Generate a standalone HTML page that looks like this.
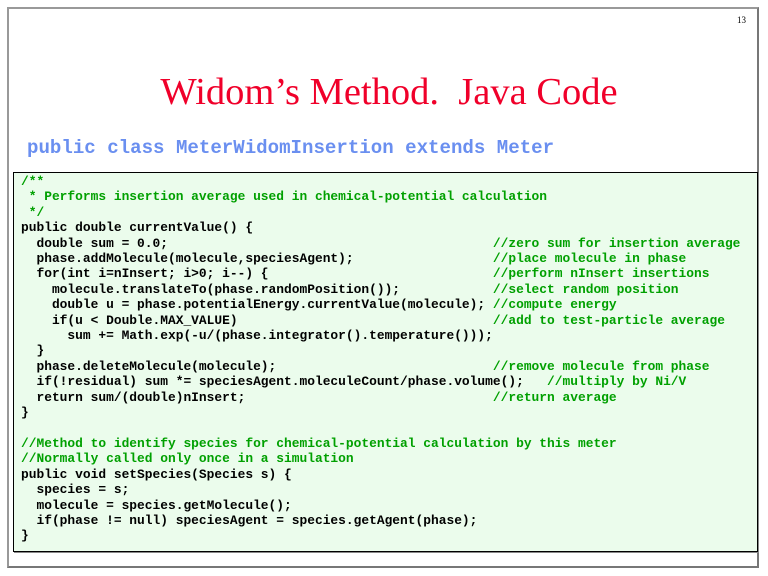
<!DOCTYPE html>
<html><head><meta charset="utf-8"><style>
body{margin:0;width:768px;height:576px;background:#fff;position:relative;overflow:hidden}
#slide{position:absolute;left:7px;top:7px;width:752px;height:561px;border:2px solid #777;border-top-color:#999;border-left-color:#999;box-sizing:border-box}
.num{position:absolute;left:737px;top:15px;font:9px "Liberation Serif",serif}
.title{position:absolute;left:0;width:778px;text-align:center;top:70px;font:38.5px "Liberation Serif",serif;color:#f0002a;white-space:pre}
.cls{position:absolute;left:27px;top:137px;font:bold 19.1px "Liberation Mono",monospace;color:#6a8ff0;white-space:pre}
#box{position:absolute;left:13px;top:172px;width:745px;height:380px;box-sizing:border-box;border:1px solid #000;background:#ebfcec;box-shadow:1px 1px 0 #888}
pre{position:absolute;left:21px;top:174px;margin:0;font:bold 12.9px/15.4px "Liberation Mono",monospace;color:#000}
.c{color:#00a000}
</style></head><body>
<div id="slide"></div>
<div class="num">13</div>
<div class="title">Widom’s Method.  Java Code</div>
<div class="cls">public class MeterWidomInsertion extends Meter</div>
<div id="box"></div>
<pre><span class="c">/**
 * Performs insertion average used in chemical-potential calculation
 */</span>
public double currentValue() {
  double sum = 0.0;                                          <span class="c">//zero sum for insertion average</span>
  phase.addMolecule(molecule,speciesAgent);                  <span class="c">//place molecule in phase</span>
  for(int i=nInsert; i&gt;0; i--) {                             <span class="c">//perform nInsert insertions</span>
    molecule.translateTo(phase.randomPosition());            <span class="c">//select random position</span>
    double u = phase.potentialEnergy.currentValue(molecule); <span class="c">//compute energy</span>
    if(u &lt; Double.MAX_VALUE)                                 <span class="c">//add to test-particle average</span>
      sum += Math.exp(-u/(phase.integrator().temperature()));
  }
  phase.deleteMolecule(molecule);                            <span class="c">//remove molecule from phase</span>
  if(!residual) sum *= speciesAgent.moleculeCount/phase.volume();   <span class="c">//multiply by Ni/V</span>
  return sum/(double)nInsert;                                <span class="c">//return average</span>
}

<span class="c">//Method to identify species for chemical-potential calculation by this meter
//Normally called only once in a simulation</span>
public void setSpecies(Species s) {
  species = s;
  molecule = species.getMolecule();
  if(phase != null) speciesAgent = species.getAgent(phase);
}</pre>
</body></html>
